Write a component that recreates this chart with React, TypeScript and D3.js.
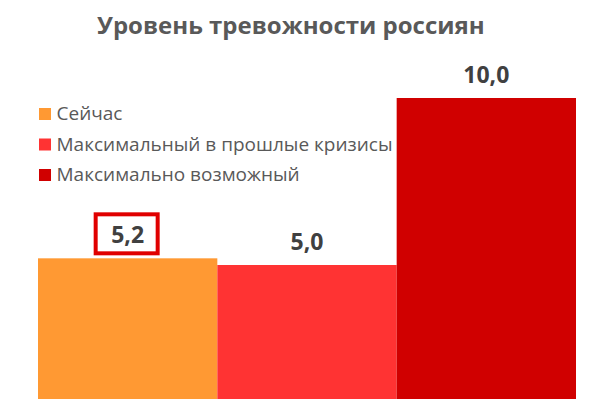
import React from 'react';
import * as d3 from 'd3';

// series (each bar is its own legend entry)
const seriesNames = ['Сейчас', 'Максимальный в прошлые кризисы', 'Максимально возможный'];
const seriesValues = [5.2, 5.0, 10.0];
const seriesColors = ['#FF9933', '#FF3333', '#D00000'];
const highlighted = ['Сейчас'];
const title = 'Уровень тревожности россиян';

const W = 612;
const H = 399;

const fmt = (v: number) => d3.format('.1f')(v).replace('.', ',');

export default function App() {
  const x = d3.scaleBand<string>().domain(seriesNames).range([38, 576]).padding(0);
  // baseline sits below the visible frame (chart is cropped at the bottom)
  const y = d3.scaleLinear().domain([0, 10]).range([432, 98]);
  const color = d3.scaleOrdinal<string, string>().domain(seriesNames).range(seriesColors);

  return (
    <svg
      width={W}
      height={H}
      style={{ position: 'absolute', left: 0, top: 0, background: '#fff' }}
      fontFamily="'Open Sans', sans-serif"
    >
      <text x={97} y={34} fontSize={24} fontWeight="bold" fill="#595959">
        {title}
      </text>

      {seriesNames.map((name, i) => (
        <g key={name}>
          <rect
            x={x(name)}
            y={y(seriesValues[i])}
            width={x.bandwidth()}
            height={y(0) - y(seriesValues[i])}
            fill={color(name)}
          />
          <text
            x={(x(name) as number) + x.bandwidth() / 2}
            y={y(seriesValues[i]) - 15}
            textAnchor="middle"
            fontSize={23}
            fontWeight="bold"
            fill="#404040"
          >
            {fmt(seriesValues[i])}
          </text>
          {highlighted.includes(name) && (
            <rect
              x={(x(name) as number) + x.bandwidth() / 2 - 32}
              y={y(seriesValues[i]) - 44}
              width={62}
              height={39}
              fill="none"
              stroke="#E00000"
              strokeWidth={4}
            />
          )}
        </g>
      ))}

      {/* legend */}
      {seriesNames.map((name, i) => (
        <g key={'lg' + name} transform={`translate(39,${120 + i * 30.5})`}>
          <rect x={0} y={-12} width={12} height={12} fill={color(name)} />
          <text x={17.5} y={0} fontSize={19} fill="#595959">
            {name}
          </text>
        </g>
      ))}
    </svg>
  );
}
